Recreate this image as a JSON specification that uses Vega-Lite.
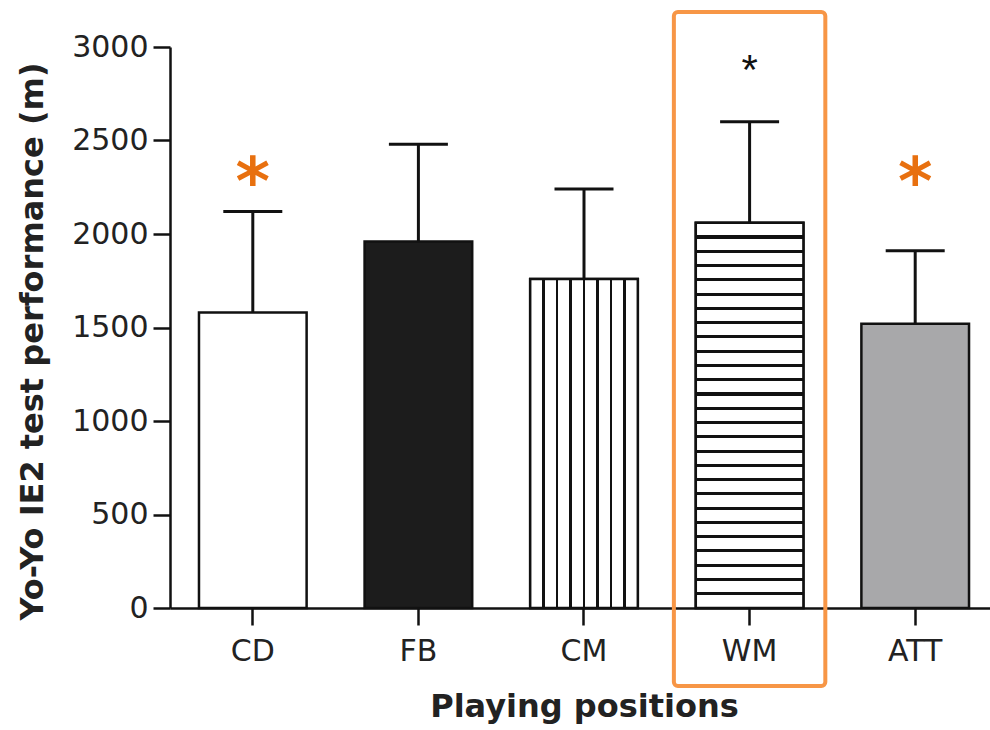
{
  "$schema": "https://vega.github.io/schema/vega-lite/v6.json",
  "width": 820,
  "height": 561,
  "autosize": "none",
  "padding": {"left": 170, "top": 47, "right": 0, "bottom": 122},
  "background": "white",
  "config": {
    "view": {"stroke": null},
    "font": "DejaVu Sans",
    "axis": {
      "grid": false,
      "domainColor": "#111",
      "tickColor": "#111",
      "labelColor": "#222",
      "titleColor": "#222",
      "labelFont": "DejaVu Sans",
      "titleFont": "DejaVu Sans",
      "domainWidth": 2.5,
      "tickWidth": 2.5
    }
  },
  "datasets": {
    "bars": [
      {"pos": "CD", "mean": 1580, "upper": 2120},
      {"pos": "FB", "mean": 1960, "upper": 2480},
      {"pos": "CM", "mean": 1760, "upper": 2240},
      {"pos": "WM", "mean": 2060, "upper": 2600},
      {"pos": "ATT", "mean": 1520, "upper": 1910}
    ],
    "stars": [
      {"pos": "CD", "y": 2160, "label": "*", "kind": "orange"},
      {"pos": "ATT", "y": 2160, "label": "*", "kind": "orange"},
      {"pos": "WM", "y": 2800, "label": "*", "kind": "black"}
    ],
    "box": [
      {"pos": "WM", "top": 3187, "bottom": -417}
    ]
  },
  "encoding": {
    "x": {
      "field": "pos",
      "type": "nominal",
      "sort": ["CD", "FB", "CM", "WM", "ATT"],
      "scale": {"domain": ["CD", "FB", "CM", "WM", "ATT"], "range": [0, 828], "paddingInner": 0.35, "paddingOuter": 0.175},
      "axis": {
        "labelAngle": 0,
        "tickSize": 17,
        "labelPadding": 11,
        "labelFontSize": 30,
        "titleFontSize": 32,
        "titleFontWeight": "bold",
        "titlePadding": 25
      },
      "title": "Playing positions"
    }
  },
  "layer": [
    {
      "data": {"name": "bars"},
      "mark": {"type": "rule", "color": "#111", "strokeWidth": 3},
      "encoding": {
        "y": {
          "field": "mean",
          "type": "quantitative",
          "scale": {"domain": [0, 3000], "nice": false},
          "title": "Yo-Yo IE2 test performance (m)",
          "axis": {
            "values": [0, 500, 1000, 1500, 2000, 2500, 3000],
            "format": "d",
            "tickSize": 17,
            "labelPadding": 5,
            "labelFontSize": 30,
            "titleFontSize": 32,
            "titleFontWeight": "bold",
            "titlePadding": 22,
            "titleY": 294
          }
        },
        "y2": {"field": "upper"}
      }
    },
    {
      "data": {"name": "bars"},
      "mark": {"type": "tick", "color": "#111", "size": 59, "thickness": 3, "opacity": 1},
      "encoding": {
        "y": {"field": "upper", "type": "quantitative", "title": "Yo-Yo IE2 test performance (m)"}
      }
    },
    {
      "data": {"name": "bars"},
      "mark": {"type": "bar", "stroke": "#111", "strokeWidth": 2.5, "opacity": 1},
      "encoding": {
        "y": {"field": "mean", "type": "quantitative", "title": "Yo-Yo IE2 test performance (m)"},
        "fill": {
          "field": "pos",
          "type": "nominal",
          "legend": null,
          "scale": {"domain": ["CD", "FB", "CM", "WM", "ATT"], "range": ["#ffffff", "#1c1c1c", "#ffffff", "#ffffff", "#a8a8aa"]}
        }
      }
    },
    {
      "data": {"name": "bars"},
      "transform": [{"filter": "datum.pos === 'CM'"}],
      "mark": {
        "type": "bar",
        "stroke": "#111",
        "strokeWidth": 2.5,
        "fill": {
          "gradient": "linear", "x1": 0, "y1": 0, "x2": 1, "y2": 0,
          "stops": [
            {"offset": 0, "color": "#ffffff"},
            {"offset": 0.112, "color": "#ffffff"}, {"offset": 0.112, "color": "#111111"}, {"offset": 0.138, "color": "#111111"}, {"offset": 0.138, "color": "#ffffff"},
            {"offset": 0.237, "color": "#ffffff"}, {"offset": 0.237, "color": "#111111"}, {"offset": 0.263, "color": "#111111"}, {"offset": 0.263, "color": "#ffffff"},
            {"offset": 0.362, "color": "#ffffff"}, {"offset": 0.362, "color": "#111111"}, {"offset": 0.388, "color": "#111111"}, {"offset": 0.388, "color": "#ffffff"},
            {"offset": 0.487, "color": "#ffffff"}, {"offset": 0.487, "color": "#111111"}, {"offset": 0.513, "color": "#111111"}, {"offset": 0.513, "color": "#ffffff"},
            {"offset": 0.612, "color": "#ffffff"}, {"offset": 0.612, "color": "#111111"}, {"offset": 0.638, "color": "#111111"}, {"offset": 0.638, "color": "#ffffff"},
            {"offset": 0.737, "color": "#ffffff"}, {"offset": 0.737, "color": "#111111"}, {"offset": 0.763, "color": "#111111"}, {"offset": 0.763, "color": "#ffffff"},
            {"offset": 0.862, "color": "#ffffff"}, {"offset": 0.862, "color": "#111111"}, {"offset": 0.888, "color": "#111111"}, {"offset": 0.888, "color": "#ffffff"},
            {"offset": 1, "color": "#ffffff"}
          ]
        }
      },
      "encoding": {
        "y": {"field": "mean", "type": "quantitative", "title": "Yo-Yo IE2 test performance (m)"}
      }
    },
    {
      "data": {"name": "bars"},
      "transform": [{"filter": "datum.pos === 'WM'"}],
      "mark": {
        "type": "bar",
        "stroke": "#111",
        "strokeWidth": 2.5,
        "fill": {
          "gradient": "linear", "x1": 0, "y1": 0, "x2": 0, "y2": 1,
          "stops": [
            {"offset": 0, "color": "#ffffff"},
            {"offset": 0.0330, "color": "#ffffff"}, {"offset": 0.0330, "color": "#111111"}, {"offset": 0.0410, "color": "#111111"}, {"offset": 0.0410, "color": "#ffffff"},
            {"offset": 0.0701, "color": "#ffffff"}, {"offset": 0.0701, "color": "#111111"}, {"offset": 0.0781, "color": "#111111"}, {"offset": 0.0781, "color": "#ffffff"},
            {"offset": 0.1071, "color": "#ffffff"}, {"offset": 0.1071, "color": "#111111"}, {"offset": 0.1151, "color": "#111111"}, {"offset": 0.1151, "color": "#ffffff"},
            {"offset": 0.1441, "color": "#ffffff"}, {"offset": 0.1441, "color": "#111111"}, {"offset": 0.1521, "color": "#111111"}, {"offset": 0.1521, "color": "#ffffff"},
            {"offset": 0.1812, "color": "#ffffff"}, {"offset": 0.1812, "color": "#111111"}, {"offset": 0.1892, "color": "#111111"}, {"offset": 0.1892, "color": "#ffffff"},
            {"offset": 0.2182, "color": "#ffffff"}, {"offset": 0.2182, "color": "#111111"}, {"offset": 0.2262, "color": "#111111"}, {"offset": 0.2262, "color": "#ffffff"},
            {"offset": 0.2553, "color": "#ffffff"}, {"offset": 0.2553, "color": "#111111"}, {"offset": 0.2633, "color": "#111111"}, {"offset": 0.2633, "color": "#ffffff"},
            {"offset": 0.2923, "color": "#ffffff"}, {"offset": 0.2923, "color": "#111111"}, {"offset": 0.3003, "color": "#111111"}, {"offset": 0.3003, "color": "#ffffff"},
            {"offset": 0.3293, "color": "#ffffff"}, {"offset": 0.3293, "color": "#111111"}, {"offset": 0.3373, "color": "#111111"}, {"offset": 0.3373, "color": "#ffffff"},
            {"offset": 0.3664, "color": "#ffffff"}, {"offset": 0.3664, "color": "#111111"}, {"offset": 0.3744, "color": "#111111"}, {"offset": 0.3744, "color": "#ffffff"},
            {"offset": 0.4034, "color": "#ffffff"}, {"offset": 0.4034, "color": "#111111"}, {"offset": 0.4114, "color": "#111111"}, {"offset": 0.4114, "color": "#ffffff"},
            {"offset": 0.4404, "color": "#ffffff"}, {"offset": 0.4404, "color": "#111111"}, {"offset": 0.4484, "color": "#111111"}, {"offset": 0.4484, "color": "#ffffff"},
            {"offset": 0.4775, "color": "#ffffff"}, {"offset": 0.4775, "color": "#111111"}, {"offset": 0.4855, "color": "#111111"}, {"offset": 0.4855, "color": "#ffffff"},
            {"offset": 0.5145, "color": "#ffffff"}, {"offset": 0.5145, "color": "#111111"}, {"offset": 0.5225, "color": "#111111"}, {"offset": 0.5225, "color": "#ffffff"},
            {"offset": 0.5516, "color": "#ffffff"}, {"offset": 0.5516, "color": "#111111"}, {"offset": 0.5596, "color": "#111111"}, {"offset": 0.5596, "color": "#ffffff"},
            {"offset": 0.5886, "color": "#ffffff"}, {"offset": 0.5886, "color": "#111111"}, {"offset": 0.5966, "color": "#111111"}, {"offset": 0.5966, "color": "#ffffff"},
            {"offset": 0.6256, "color": "#ffffff"}, {"offset": 0.6256, "color": "#111111"}, {"offset": 0.6336, "color": "#111111"}, {"offset": 0.6336, "color": "#ffffff"},
            {"offset": 0.6627, "color": "#ffffff"}, {"offset": 0.6627, "color": "#111111"}, {"offset": 0.6707, "color": "#111111"}, {"offset": 0.6707, "color": "#ffffff"},
            {"offset": 0.6997, "color": "#ffffff"}, {"offset": 0.6997, "color": "#111111"}, {"offset": 0.7077, "color": "#111111"}, {"offset": 0.7077, "color": "#ffffff"},
            {"offset": 0.7367, "color": "#ffffff"}, {"offset": 0.7367, "color": "#111111"}, {"offset": 0.7447, "color": "#111111"}, {"offset": 0.7447, "color": "#ffffff"},
            {"offset": 0.7738, "color": "#ffffff"}, {"offset": 0.7738, "color": "#111111"}, {"offset": 0.7818, "color": "#111111"}, {"offset": 0.7818, "color": "#ffffff"},
            {"offset": 0.8108, "color": "#ffffff"}, {"offset": 0.8108, "color": "#111111"}, {"offset": 0.8188, "color": "#111111"}, {"offset": 0.8188, "color": "#ffffff"},
            {"offset": 0.8479, "color": "#ffffff"}, {"offset": 0.8479, "color": "#111111"}, {"offset": 0.8559, "color": "#111111"}, {"offset": 0.8559, "color": "#ffffff"},
            {"offset": 0.8849, "color": "#ffffff"}, {"offset": 0.8849, "color": "#111111"}, {"offset": 0.8929, "color": "#111111"}, {"offset": 0.8929, "color": "#ffffff"},
            {"offset": 0.9219, "color": "#ffffff"}, {"offset": 0.9219, "color": "#111111"}, {"offset": 0.9299, "color": "#111111"}, {"offset": 0.9299, "color": "#ffffff"},
            {"offset": 0.9590, "color": "#ffffff"}, {"offset": 0.9590, "color": "#111111"}, {"offset": 0.9670, "color": "#111111"}, {"offset": 0.9670, "color": "#ffffff"},
            {"offset": 1, "color": "#ffffff"}
          ]
        }
      },
      "encoding": {
        "y": {"field": "mean", "type": "quantitative", "title": "Yo-Yo IE2 test performance (m)"}
      }
    },
    {
      "data": {"name": "stars"},
      "transform": [{"filter": "datum.kind === 'orange'"}],
      "mark": {"type": "text", "font": "DejaVu Sans", "fontWeight": "bold", "fontSize": 66, "color": "#e8700f", "align": "center", "baseline": "alphabetic"},
      "encoding": {
        "y": {"field": "y", "type": "quantitative", "title": "Yo-Yo IE2 test performance (m)"},
        "text": {"field": "label"}
      }
    },
    {
      "data": {"name": "stars"},
      "transform": [{"filter": "datum.kind === 'black'"}],
      "mark": {"type": "text", "font": "Liberation Sans", "fontSize": 42, "color": "#111", "align": "center", "baseline": "alphabetic"},
      "encoding": {
        "y": {"field": "y", "type": "quantitative", "title": "Yo-Yo IE2 test performance (m)"},
        "text": {"field": "label"}
      }
    },
    {
      "data": {"name": "box"},
      "mark": {"type": "bar", "filled": false, "stroke": "#f79646", "strokeWidth": 4, "cornerRadius": 4, "width": {"band": 1.407}, "clip": false},
      "encoding": {
        "y": {"field": "top", "type": "quantitative", "title": "Yo-Yo IE2 test performance (m)"},
        "y2": {"field": "bottom"}
      }
    }
  ]
}
